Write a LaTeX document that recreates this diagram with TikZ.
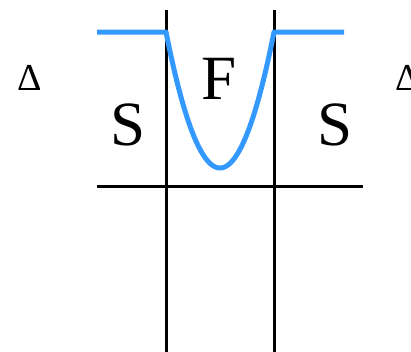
\documentclass[tikz,border=0pt]{standalone}
\usepackage{fontspec}
\setmainfont{Liberation Serif}
\definecolor{curveblue}{HTML}{3399FF}
\begin{document}
\begin{tikzpicture}[x=1pt,y=-1pt,
  bigletter/.style={inner sep=0pt,font=\fontsize{63}{63}\selectfont},
  deltalabel/.style={inner sep=0pt,font=\fontsize{38}{38}\selectfont},
  axisline/.style={black,line width=3pt},
  wave/.style={curveblue,line width=5pt,line join=round}]
\useasboundingbox (0,0) rectangle (411,351);
% grid lines
\coordinate (v1t) at (166,10); \coordinate (v1b) at (166,355);
\coordinate (v2t) at (274,10); \coordinate (v2b) at (274,355);
\coordinate (hl) at (97,186); \coordinate (hr) at (363,186);
\draw[axisline] (v1t) -- (v1b);
\draw[axisline] (v2t) -- (v2b);
\draw[axisline] (hl) -- (hr);
% blue curve
\coordinate (bl) at (97,32); \coordinate (br) at (344,32);
\draw[wave] (bl) -- (166,32)
  -- plot[domain=-1:1,samples=121,smooth] ({220+54*\x},{32+136*(1-\x*\x)})
  -- (br);
% labels
\node[bigletter] (s1) at (128,125) {S};
\node[bigletter] (f) at (219,79) {F};
\node[bigletter] (s2) at (335,125) {S};
\node[deltalabel] (d1) at (30,78) {Δ};
\node[deltalabel] (d2) at (408,78) {Δ};
\end{tikzpicture}
\end{document}
